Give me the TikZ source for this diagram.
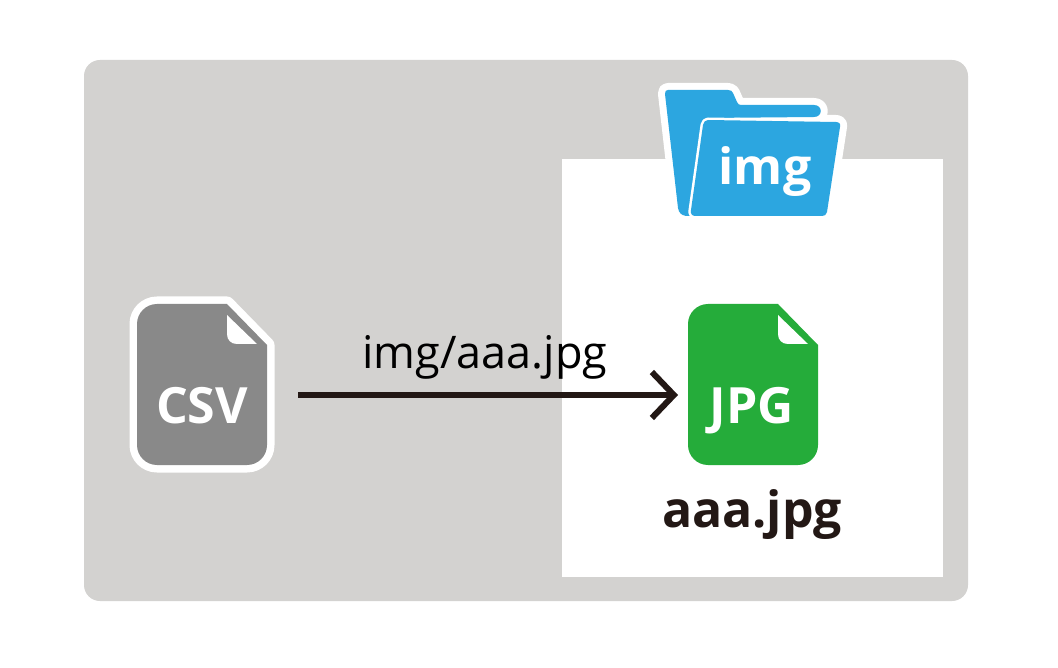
\documentclass[tikz,border=0pt]{standalone}
\usepackage{fontspec}
\setmainfont{Open Sans}
\usetikzlibrary{arrows.meta}
\definecolor{panelgray}{HTML}{D3D2D0}
\definecolor{folderblue}{HTML}{2CA6E0}
\definecolor{docgreen}{HTML}{25AC3A}
\definecolor{docgray}{HTML}{898989}
\definecolor{inkdark}{HTML}{231815}
\tikzset{
  x=1pt,y=-1pt,
  lbl/.style={inner sep=0pt,anchor=base,font=#1},
  lbl/.default={\fontsize{45}{45}\selectfont},
  iconlbl/.style={inner sep=0pt,anchor=base,text=white,font=\bfseries\fontsize{50}{50}\selectfont},
  arr/.style={draw=inkdark,line width=6pt,-{Straight Barb[length=22pt,width=46pt,line width=6pt]}},
}
\newcommand{\docpath}[2]{% x-left, y-top
  (#1+20,#2) -- (#1+90,#2) -- (#1+130,#2+41) -- (#1+130,#2+141)
  arc[start angle=0,end angle=90,radius=20] -- (#1+20,#2+161)
  arc[start angle=90,end angle=180,radius=20] -- (#1,#2+20)
  arc[start angle=180,end angle=270,radius=20] -- cycle}
\newcommand{\foldpath}[2]{%
  (#1+90,#2+11) -- (#1+90,#2+30) .. controls (#1+90,#2+36) and (#1+94,#2+40) .. (#1+100,#2+40) -- (#1+120,#2+40) -- cycle}
\newcommand{\backfolder}{%
  (668,90) -- (728,90) .. controls (731,90) and (732,91) .. (733,93) -- (737,102) .. controls (738,104) and (739,105) .. (741,105)
  -- (814,105) .. controls (823,105) and (823,117) .. (814,117) -- (708,118)
  -- (690,216) -- (686,216) .. controls (681,215) and (679,213) .. (678,208) -- (665,94) .. controls (665,91) and (666,90) .. (668,90) -- cycle}
\newcommand{\frontfolder}{%
  (708,120) -- (836,122) .. controls (839,122) and (841,124) .. (840,127) -- (827,212) .. controls (826,215) and (825,216) .. (822,216)
  -- (695,216) .. controls (692,216) and (690,213) .. (691,210) -- (703,125) .. controls (704,122) and (705,120) .. (708,120) -- cycle}
\begin{document}
\begin{tikzpicture}
\useasboundingbox (0,0) rectangle (1058,668);
\fill[white] (0,0) rectangle (1058,668);
\fill[panelgray,rounded corners=16pt] (84,60) rectangle (968,601);
\fill[white] (562,159) rectangle (943,577);
% folder
\draw[white,line width=14pt,line join=round,fill=white] \backfolder;
\draw[white,line width=14pt,line join=round,fill=white] \frontfolder;
\fill[folderblue] \backfolder;
\draw[white,line width=5pt,line join=round] \frontfolder;
\fill[folderblue] \frontfolder;
\node[iconlbl] (imglabel) at (765,185) {img};
% CSV file
\draw[white,line width=15pt,line join=round,fill=white] \docpath{137}{304};
\fill[docgray] \docpath{137}{304};
\fill[white] \foldpath{137}{304};
\node[iconlbl] (csvlabel) at (202,423) {CSV};
% JPG file
\fill[docgreen] \docpath{688}{304};
\fill[white] \foldpath{688}{304};
\node[iconlbl] (jpglabel) at (752,423) {JPG};
\node[lbl={\bfseries\fontsize{50}{50}\selectfont},text=inkdark] (filename) at (752,527) {aaa.jpg};
% connector
\coordinate (csvright) at (298,395);
\coordinate (jpgleft) at (678,395);
\draw[arr] (csvright) -- (jpgleft);
\node[lbl,text=black] (path) at (485,369) {img/aaa.jpg};
\end{tikzpicture}
\end{document}
